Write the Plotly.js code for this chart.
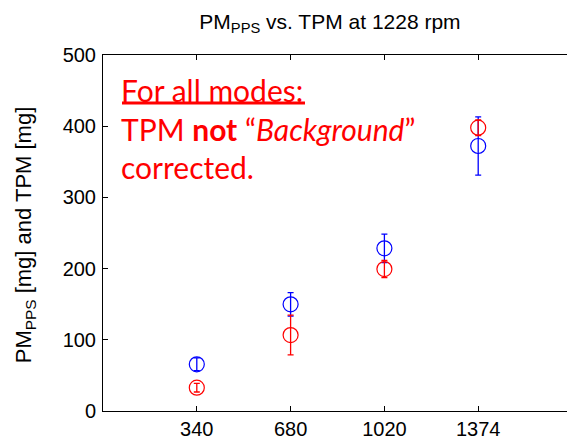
<!DOCTYPE html>
<html>
<head>
<meta charset="utf-8">
<script src="https://cdn.plot.ly/plotly-3.0.1.min.js"></script>
<style>
html,body{margin:0;padding:0;overflow:hidden;background:#fff;}
#chart{width:575px;height:442px;}
</style>
</head>
<body>
<div id="chart"></div>
<script>
// Engine speeds (x-axis categories)
const categories = ['340', '680', '1020', '1374'];
// PM_PPS series (blue)
const pmPPS = [65.6, 149.8, 228.5, 372.2];
const pmPPSErr = [9, 16.5, 20, 41];
// TPM series (red)
const tpm = [32.7, 106.7, 199.4, 397.9];
const tpmErr = [6, 28, 12, 11];

const sans = '"Liberation Sans", Arial, Helvetica, sans-serif';

const common = {
  type: 'scatter',
  mode: 'markers',
  x: categories,
  showlegend: false,
  cliponaxis: false
};

const traces = [
  Object.assign({}, common, {
    y: pmPPS,
    marker: {symbol: 'circle-open', size: 15, color: 'rgb(0,0,255)', line: {width: 1.2, color: 'rgb(0,0,255)'}},
    error_y: {type: 'data', array: pmPPSErr, visible: true, color: 'rgb(0,0,255)', thickness: 1.3, width: 3}
  }),
  Object.assign({}, common, {
    y: tpm,
    marker: {symbol: 'circle-open', size: 15, color: 'rgb(255,0,0)', line: {width: 1.2, color: 'rgb(255,0,0)'}},
    error_y: {type: 'data', array: tpmErr, visible: true, color: 'rgb(255,0,0)', thickness: 1.3, width: 3}
  })
];

const redFont = {family: 'Lato, "Open Sans", sans-serif', size: 30, color: 'rgb(255,0,0)'};

const layout = {
  width: 575,
  height: 442,
  margin: {l: 103, r: 3, t: 55, b: 31},
  paper_bgcolor: '#fff',
  plot_bgcolor: '#fff',
  font: {family: sans, size: 20, color: '#000'},
  title: {
    text: 'PM<sub>PPS</sub> vs. TPM at 1228 rpm',
    font: {family: sans, size: 21, color: '#000'},
    xref: 'paper', x: 0.484, xanchor: 'center',
    yref: 'container', y: 0.952, yanchor: 'middle'
  },
  xaxis: {
    type: 'category',
    range: [-1, 4],
    showgrid: false, zeroline: false,
    showline: true, linecolor: '#000', linewidth: 1, mirror: 'ticks',
    ticks: 'inside', ticklen: 5, tickcolor: '#000',
    tickfont: {family: sans, size: 20, color: '#000'}
  },
  yaxis: {
    range: [0, 500],
    dtick: 100,
    showgrid: false, zeroline: false,
    showline: true, linecolor: '#000', linewidth: 1, mirror: 'ticks',
    ticks: 'inside', ticklen: 5, tickcolor: '#000',
    tickfont: {family: sans, size: 20, color: '#000'},
    ticklabelstandoff: 2
  },
  annotations: [
    {xref: 'paper', yref: 'paper', x: -0.166, y: 0.494, textangle: -90, showarrow: false,
     text: 'PM<sub>PPS</sub> [mg] and TPM [mg]', xanchor: 'center', yanchor: 'middle',
     font: {family: sans, size: 22, color: '#000'}},
    {xref: 'paper', yref: 'paper', x: 0.035, y: 0.903, xanchor: 'left', yanchor: 'middle', showarrow: false,
     text: 'For all modes:', font: redFont},
    {xref: 'paper', yref: 'paper', x: 0.035, y: 0.7935, xanchor: 'left', yanchor: 'middle', showarrow: false,
     text: 'TPM <b>not</b> \u201C<i>Background</i>\u201D', font: redFont},
    {xref: 'paper', yref: 'paper', x: 0.035, y: 0.684, xanchor: 'left', yanchor: 'middle', showarrow: false,
     text: 'corrected.', font: redFont}
  ],
  shapes: [
    {type: 'line', xref: 'paper', yref: 'paper', x0: 0.0405, x1: 0.4307, y0: 0.865, y1: 0.865,
     line: {color: 'rgb(255,0,0)', width: 3}}
  ]
};

Plotly.newPlot('chart', traces, layout, {displayModeBar: false, staticPlot: true});
</script>
</body>
</html>
